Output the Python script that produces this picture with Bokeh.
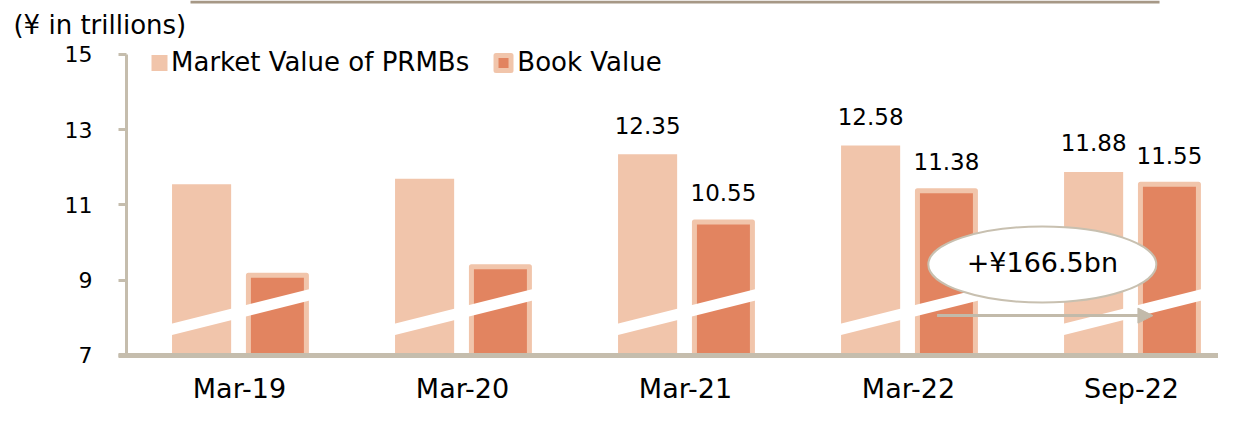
from bokeh.plotting import figure
from bokeh.models import Range1d, FixedTicker, Label, Arrow, NormalHead, ColumnDataSource
from bokeh.core.properties import value
from bokeh.embed import file_html
from bokeh.resources import INLINE

# ---------------- data ----------------
categories = ["Mar-19", "Mar-20", "Mar-21", "Mar-22", "Sep-22"]
market_value = [11.55, 11.70, 12.35, 12.58, 11.88]   # Market Value of PRMBs
book_value = [9.13, 9.36, 10.55, 11.38, 11.55]       # Book Value
labeled_idx = [2, 3, 4]                               # categories with value labels
y_ticks = [7, 9, 11, 13, 15]
series_names = ["Market Value of PRMBs", "Book Value"]
unit_label = "(¥ in trillions)"
annotation_text = "+¥166.5bn"

# ---------------- style / layout ----------------
FONT = "DejaVu Sans"
MARKET_COLOR = "#F1C5AB"
BOOK_COLOR = "#E28460"
AXIS_COLOR = "#C5BDAD"
ARROW_COLOR = "#C2BAAA"
ELLIPSE_LINE = "#C8C0B0"
TOP_LINE_COLOR = "#A69886"
OFF = 0.170                   # dodge of the two bars within a category
X0, X1 = -1.0717, 4.390       # x range (frame covers whole canvas)
Y0, Y1 = 5.6445, 16.435       # y range
Y_AXIS_AT = -0.5067           # data x where the value axis sits
X_AXIS_LEFT = -0.5426

xs = list(range(len(categories)))
src = ColumnDataSource(dict(
    xm=[i - OFF for i in xs], xb=[i + OFF for i in xs],
    market=market_value, book=book_value))

p = figure(width=1218, height=406, output_backend="svg", toolbar_location=None,
           x_range=Range1d(X0, X1), y_range=Range1d(Y0, Y1),
           min_border=0, outline_line_color=None,
           background_fill_color="white", border_fill_color="white")
p.grid.visible = False

# bars
p.vbar(x="xm", top="market", bottom=y_ticks[0], width=0.265, source=src,
       fill_color=MARKET_COLOR, line_color=None)
p.vbar(x="xb", top="book", bottom=y_ticks[0], width=0.26, source=src,
       fill_color=BOOK_COLOR, line_color=MARKET_COLOR, line_width=5,
       line_join="round")

# axis-break bands (white slashes across each pair of bars)
BAND_HALF = 0.34
BAND_LOW, BAND_HIGH = 7.64, 8.65
p.segment(x0=[i - BAND_HALF for i in xs], y0=[BAND_LOW] * len(xs),
          x1=[i + BAND_HALF for i in xs], y1=[BAND_HIGH] * len(xs),
          line_color="white", line_width=11)

# value labels
lab = ColumnDataSource(dict(
    xm=[xs[i] - OFF for i in labeled_idx], xb=[xs[i] + OFF for i in labeled_idx],
    market=[market_value[i] for i in labeled_idx],
    book=[book_value[i] for i in labeled_idx],
    mt=[f"{market_value[i]:.2f}" for i in labeled_idx],
    bt=[f"{book_value[i]:.2f}" for i in labeled_idx]))
p.text(x="xm", y="market", text="mt", source=lab, text_align="center",
       text_baseline="middle", y_offset=-29, text_font=value(FONT),
       text_font_size="23px", text_color="black")
p.text(x="xb", y="book", text="bt", source=lab, text_align="center",
       text_baseline="middle", y_offset=-29, text_font=value(FONT),
       text_font_size="23px", text_color="black")

# legend (manual)
LEG_Y = 14.774
p.scatter(x=[-0.3587], y=[LEG_Y], marker="square", size=16,
          fill_color=MARKET_COLOR, line_color=None)
p.scatter(x=[1.1839], y=[LEG_Y], marker="square", size=15,
          fill_color=BOOK_COLOR, line_color=MARKET_COLOR, line_width=5,
          line_join="round")
p.text(x=[-0.307, 1.2457], y=[LEG_Y] * 2, text=series_names,
       text_align="left", text_baseline="middle", y_offset=-1,
       text_font=value(FONT), text_font_size="26px", text_color="black")

# top decorative rule
p.segment(x0=[-0.2197], y0=[16.395], x1=[4.1256], y1=[16.395],
          line_color=TOP_LINE_COLOR, line_width=3)

# annotation ellipse + arrow
ELL_X, ELL_Y = 3.60, 9.42
p.ellipse(x=[ELL_X], y=[ELL_Y], width=228, height=76, width_units="screen",
          height_units="screen", fill_color="white", line_color=ELLIPSE_LINE,
          line_width=2)
p.add_layout(Label(x=ELL_X, y=ELL_Y + 0.053, text=annotation_text,
                   text_align="center", text_baseline="middle", text_font=FONT,
                   text_font_size="27px", text_color="black"))
p.add_layout(Arrow(x_start=3.128, y_start=8.06, x_end=4.096, y_end=8.06,
                   line_color=ARROW_COLOR, line_width=3,
                   end=NormalHead(size=15, fill_color=ARROW_COLOR,
                                  line_color=ARROW_COLOR)))

# unit label
p.add_layout(Label(x=-1.0135, y=15.784, text=unit_label, text_align="left",
                   text_baseline="middle", text_font=FONT,
                   text_font_size="26px", text_color="black"))

# axes (pinned inside the frame)
xa = p.xaxis[0]
xa.fixed_location = y_ticks[0]
xa.bounds = (X_AXIS_LEFT, X1)
xa.ticker = FixedTicker(ticks=xs)
xa.major_label_overrides = {i: c for i, c in zip(xs, categories)}
xa.axis_line_color = AXIS_COLOR
xa.axis_line_width = 5
xa.major_tick_line_color = None
xa.minor_tick_line_color = None
xa.major_label_text_font = FONT
xa.major_label_text_font_size = "27px"
xa.major_label_text_color = "black"
xa.major_label_standoff = 12

ya = p.yaxis[0]
ya.fixed_location = Y_AXIS_AT
ya.ticker = FixedTicker(ticks=y_ticks)
ya.bounds = (y_ticks[0], y_ticks[-1])
ya.axis_line_color = AXIS_COLOR
ya.axis_line_width = 3
ya.major_tick_line_color = AXIS_COLOR
ya.major_tick_line_width = 3
ya.major_tick_out = 8
ya.major_tick_in = 0
ya.minor_tick_line_color = None
ya.major_label_text_font = FONT
ya.major_label_text_font_size = "22px"
ya.major_label_text_color = "black"
ya.major_label_standoff = 26

open("out.html", "w").write(file_html(p, INLINE))
